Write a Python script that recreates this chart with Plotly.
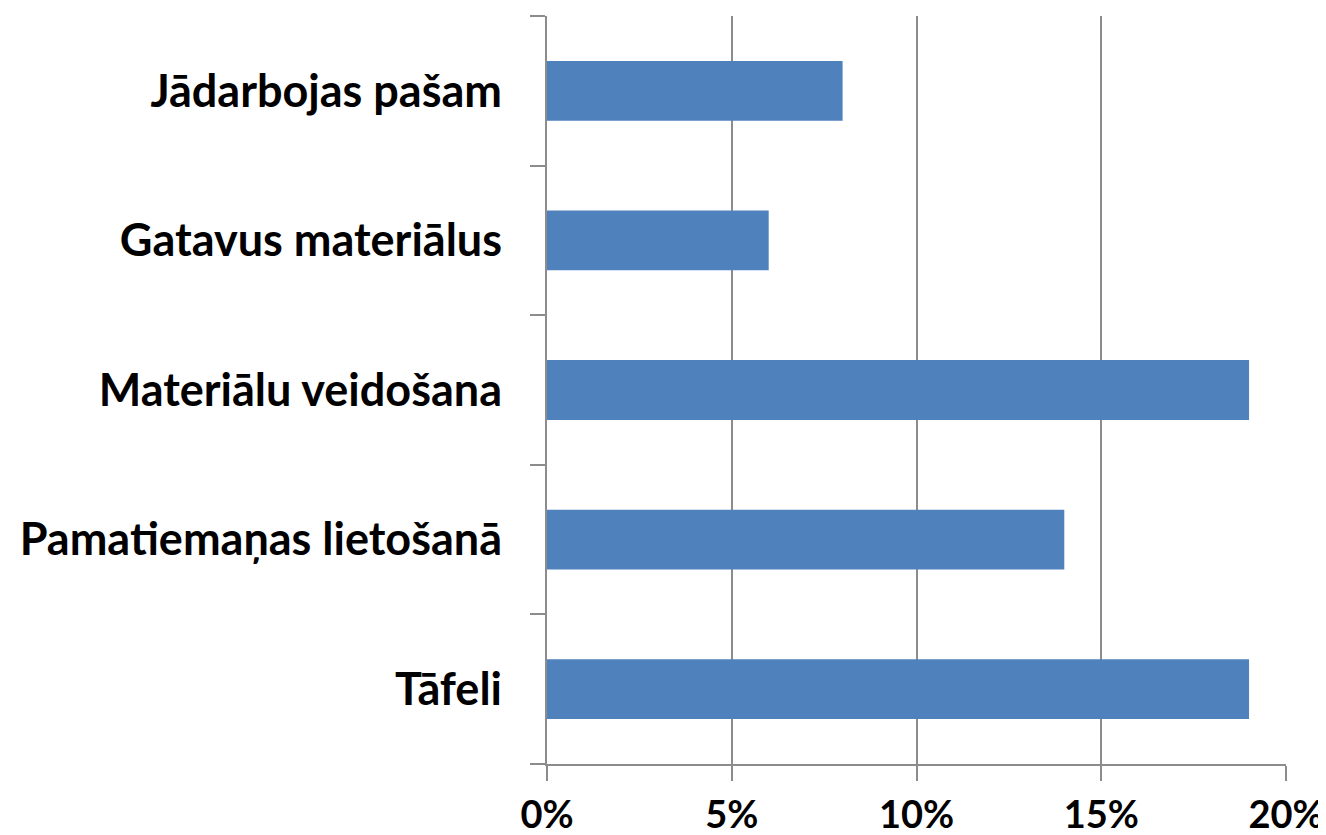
import plotly.graph_objects as go

# categories listed bottom to top, as plotly draws them
categories = ['Tāfeli', 'Pamatiemaņas lietošanā', 'Materiālu veidošana',
              'Gatavus materiālus', 'Jādarbojas pašam']
shares = [0.19, 0.14, 0.19, 0.06, 0.08]
tick_vals = [0, 0.05, 0.10, 0.15, 0.20]
tick_text = ['0%', '5%', '10%', '15%', '20%']

fig = go.Figure(go.Bar(
    x=shares, y=categories, orientation='h',
    marker_color='#4F81BD', marker_line_width=0,
))

# page body adds ~7px offset, so margins are shifted to compensate
fig.update_layout(
    width=1326, height=835,
    margin=dict(l=539, r=48, t=8, b=79, autoexpand=False),
    paper_bgcolor='white', plot_bgcolor='white',
    bargap=0.6,
    showlegend=False,
    font=dict(family='Lato', size=36, color='black'),
)

fig.update_xaxes(
    range=[0, 0.2], tickvals=tick_vals, ticktext=tick_text,
    showgrid=True, gridcolor='#8C8C8C', gridwidth=2,
    showline=True, linecolor='#8C8C8C', linewidth=2,
    ticks='outside', ticklen=15, tickwidth=2, tickcolor='#8C8C8C',
    tickfont=dict(family='Lato', size=38, color='black', weight='bold'),
    ticklabelstandoff=1, zeroline=False, automargin=False,
)
fig.update_yaxes(
    showgrid=False,
    showline=True, linecolor='#8C8C8C', linewidth=2,
    ticks='outside', ticklen=15, tickwidth=2, tickcolor='#8C8C8C',
    tickson='boundaries',
    tickfont=dict(family='Lato', size=45, color='black', weight='bold'),
    ticklabelstandoff=34, automargin=False,
)

fig.write_html("out.html")
